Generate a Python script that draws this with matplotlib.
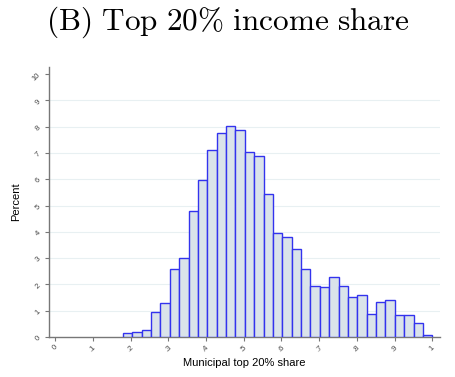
import matplotlib.pyplot as plt
import numpy as np

# histogram of municipal top 20% share, bin heights in percent
bin_start = 0.18
bin_width = 0.82 / 33
percent = [0.15, 0.19, 0.25, 0.95, 1.28, 2.59, 3.0, 4.78, 5.96, 7.10, 7.78,
           8.04, 7.89, 7.05, 6.90, 5.44, 3.94, 3.79, 3.34, 2.59, 1.95, 1.90,
           2.30, 1.95, 1.52, 1.61, 0.89, 1.35, 1.41, 0.84, 0.84, 0.53, 0.06]
x_ticks = [0, 0.1, 0.2, 0.3, 0.4, 0.5, 0.6, 0.7, 0.8, 0.9, 1.0]
x_labels = ["0", ".1", ".2", ".3", ".4", ".5", ".6", ".7", ".8", ".9", "1"]
y_ticks = list(range(0, 11))

plt.rcParams['mathtext.fontset'] = 'cm'
plt.rcParams['font.family'] = ['Liberation Sans', 'DejaVu Sans']

fig = plt.figure(figsize=(4.56, 3.77), dpi=100)
ax = fig.add_axes([0.1075, 0.106, 0.858, 0.716])

lefts = bin_start + bin_width * np.arange(len(percent))
ax.bar(lefts, percent, width=bin_width, align='edge', color='#dae3ea',
       edgecolor='#3333ee', linewidth=1.0, zorder=3)

ax.set_xlim(-0.016, 1.021)
ax.set_ylim(0, 10.27)
ax.set_xticks(x_ticks)
ax.set_xticklabels(x_labels, rotation=45, fontsize=5.5, color='#444444')
ax.set_yticks(y_ticks)
ax.set_yticklabels([str(t) for t in y_ticks], rotation=45, fontsize=5.5, color='#444444')
ax.tick_params(length=3, width=0.8, color='#777777', pad=2)

for y in y_ticks[1:10]:
    ax.axhline(y, color='#e8f0f2', linewidth=0.8, zorder=1)

for s in ['top', 'right']:
    ax.spines[s].set_visible(False)
for s in ['left', 'bottom']:
    ax.spines[s].set_color('#777777')
    ax.spines[s].set_linewidth(1.0)

ax.set_xlabel("Municipal top 20% share", fontsize=8, labelpad=3)
ax.set_ylabel("Percent", fontsize=8, labelpad=7)

fig.text(0.5, 0.94, r"$\mathrm{(B)\ Top\ 20\%\ income\ share}$", ha='center',
         va='center', fontsize=22.5)

fig.savefig("out.png", dpi=100)
